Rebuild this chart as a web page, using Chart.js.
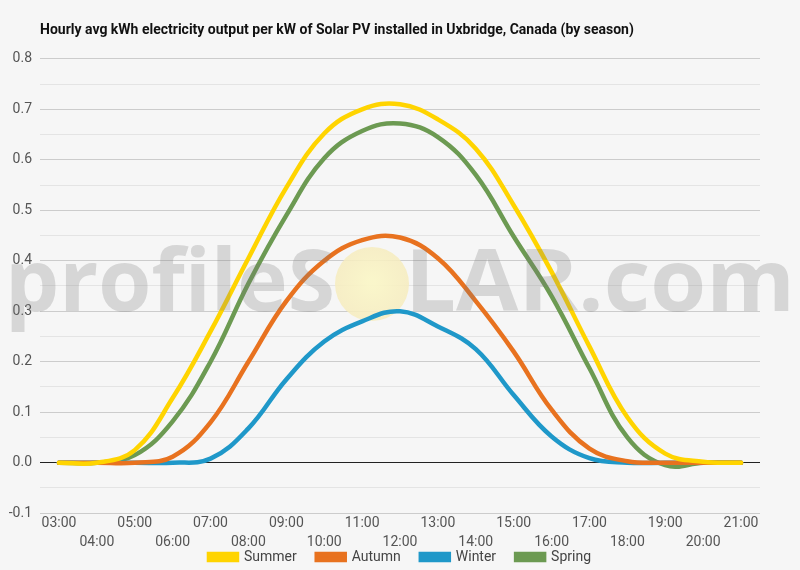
<!DOCTYPE html>
<html>
<head>
  <script src="https://cdn.jsdelivr.net/npm/chart.js@4"></script>
  <style>
    html, body { margin: 0; padding: 0; background: #f6f6f6; }
    #wrap { width: 800px; height: 570px; }
  </style>
</head>
<body>
  <div id="wrap"><canvas id="myChart"></canvas></div>
  <script>
    const hours = ['03:00', '04:00', '05:00', '06:00', '07:00', '08:00', '09:00', '10:00', '11:00', '12:00',
      '13:00', '14:00', '15:00', '16:00', '17:00', '18:00', '19:00', '20:00', '21:00'];
    const summer = [0, 0, 0.025, 0.128, 0.26, 0.405, 0.545, 0.652, 0.70, 0.71, 0.68, 0.622, 0.51, 0.378, 0.23, 0.09, 0.018, 0.002, 0];
    const autumn = [0, 0, 0, 0.012, 0.08, 0.2, 0.32, 0.40, 0.441, 0.446, 0.405, 0.32, 0.22, 0.105, 0.028, 0.003, 0, 0, 0];
    const winter = [0, 0, 0, 0, 0.008, 0.068, 0.165, 0.24, 0.28, 0.30, 0.27, 0.225, 0.134, 0.052, 0.009, 0, 0, 0, 0];
    const spring = [0, 0, 0.015, 0.082, 0.2, 0.355, 0.49, 0.603, 0.657, 0.672, 0.645, 0.57, 0.448, 0.33, 0.187, 0.05, -0.005, 0, 0];

    const titleText = 'Hourly avg kWh electricity output per kW of Solar PV installed in Uxbridge, Canada (by season)';
    const legendPad = 20;

    // page background, pale sun behind the lines, tight legend
    const bg = {
      id: 'bg',
      beforeInit(chart) {
        // only reserve a thin strip for the legend, it overlaps the label rows a bit
        const fit = chart.legend.fit;
        chart.legend.fit = function () {
          fit.call(this);
          this.height = 17;
        };
      },
      afterLayout(chart) {
        chart.legend.top -= legendPad + 3;
      },
      beforeDraw(chart) {
        const c = chart.ctx;
        c.save();
        c.fillStyle = '#f6f6f6';
        c.fillRect(0, 0, chart.width, chart.height);
        c.restore();
      },
      beforeDatasetsDraw(chart) {
        const c = chart.ctx;
        c.save();
        const g = c.createRadialGradient(372, 282, 4, 372, 284, 38);
        g.addColorStop(0, 'rgba(250,246,200,0.95)');
        g.addColorStop(1, 'rgba(246,236,190,0.85)');
        c.fillStyle = g;
        c.beginPath();
        c.arc(372, 284, 37, 0, Math.PI * 2);
        c.fill();
        c.restore();
      },
    };

    // profileSOLAR.com watermark over the plot
    const watermark = {
      id: 'watermark',
      afterDatasetsDraw(chart) {
        const c = chart.ctx;
        c.save();
        c.font = '700 100px "Open Sans"';
        const size = 100 * 330 / c.measureText('profileS').width;
        c.font = '700 ' + size + 'px "Open Sans"';
        c.textBaseline = 'alphabetic';
        c.fillStyle = 'rgba(120,120,120,0.25)';
        c.fillText('profileS', 5, 311);
        const sx = 390 / c.measureText('LAR.com').width;
        c.translate(405, 311);
        c.scale(sx, 1);
        c.fillText('LAR.com', 0, 0);
        c.restore();
      },
    };

    const ctx = document.getElementById('myChart').getContext('2d');
    new Chart(ctx, {
      type: 'line',
      data: {
        labels: hours,
        datasets: [
          { label: 'Summer', data: summer, borderColor: '#ffd400', backgroundColor: '#ffd400' },
          { label: 'Autumn', data: autumn, borderColor: '#e8721f', backgroundColor: '#e8721f' },
          { label: 'Winter', data: winter, borderColor: '#1f98c9', backgroundColor: '#1f98c9' },
          { label: 'Spring', data: spring, borderColor: '#6c9a52', backgroundColor: '#6c9a52' },
        ],
      },
      options: {
        responsive: true,
        maintainAspectRatio: false,
        animation: false,
        elements: {
          line: { borderWidth: 4.5, tension: 0.4, borderCapStyle: 'round' },
          point: { radius: 0 },
        },
        layout: { padding: { left: 0, right: 40, top: 16, bottom: 0 } },
        plugins: {
          title: {
            display: true,
            text: titleText,
            align: 'start',
            fullSize: false,
            color: '#111',
            font: { family: 'Roboto', size: 14, weight: 'bold' },
            padding: { top: 6, bottom: 20 },
          },
          legend: {
            position: 'bottom',
            fullSize: false,
            labels: {
              boxWidth: 28,
              boxHeight: 6,
              padding: legendPad,
              color: '#444',
              font: { family: 'Roboto', size: 14, lineHeight: 1 },
            },
          },
          tooltip: { enabled: false },
        },
        scales: {
          x: {
            offset: true,
            grid: { display: false, drawTicks: false },
            border: { display: false },
            ticks: {
              autoSkip: false,
              maxRotation: 0,
              padding: 1,
              color: '#555',
              font: { family: 'Roboto', size: 14, lineHeight: 1.35 },
              callback(value, index) {
                const l = hours[index];
                return index % 2 === 0 ? [l, ''] : ['', l];
              },
            },
          },
          y: {
            min: -0.1,
            max: 0.8,
            afterFit(scale) { scale.width = 40; },
            border: { display: false },
            grid: {
              drawTicks: false,
              lineWidth: 1,
              color(c) {
                const v = Math.round(c.tick.value * 100);
                if (v === 0) return '#222';
                return v % 10 === 0 ? '#cccccc' : '#e4e4e4';
              },
            },
            ticks: {
              stepSize: 0.05,
              padding: 8,
              color: '#555',
              font: { family: 'Roboto', size: 14 },
              callback(value) {
                const v = Math.round(value * 100);
                return v % 10 === 0 ? (v / 100).toFixed(1) : '';
              },
            },
          },
        },
      },
      plugins: [bg, watermark],
    });
  </script>
</body>
</html>
